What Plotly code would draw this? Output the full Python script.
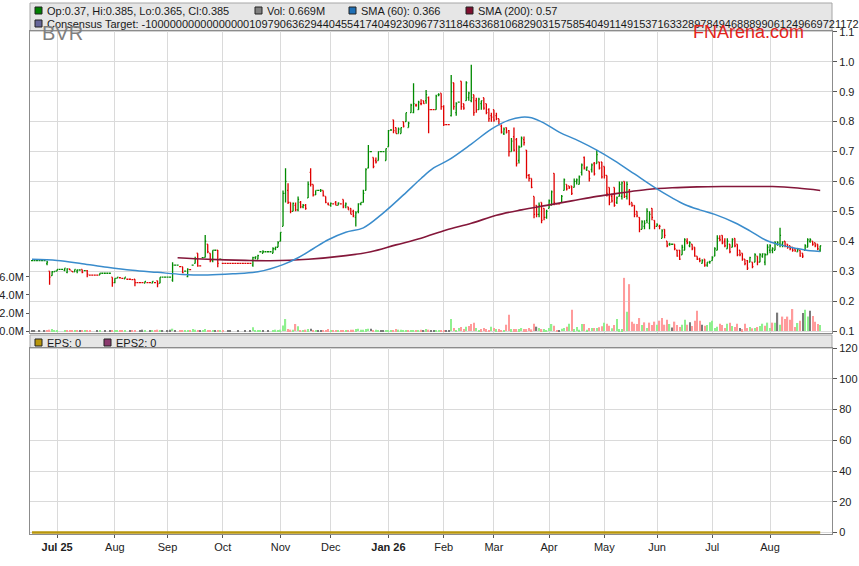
import pandas as pd
import plotly.graph_objects as go

# trading days on the chart (mid Jun 2025 .. end Aug 2026)
DATES = pd.bdate_range("2025-06-17", "2026-08-31")

# daily bars (prices in $)
OPEN = [
    .335, .335, .335, .335, .335, .335, .325, .30, .285, .298,
    .30, .306, .306, .303, .296, .308, .30, .298, .30, .304,
    .306, .302, .302, .287, .287, .287, .287, .287, .293, .293,
    .293, .293, .28, .262, .276, .278, .276, .274, .273, .273,
    .272, .273, .262, .262, .262, .26, .262, .262, .26, .262,
    .268, .26, .28, .28, .28, .28, .27, .32, .32, .315,
    .315, .30, .282, .305, .32, .326, .36, .318, .345, .346,
    .39, .36, .335, .37, .37, .34, .326, .326, .326, .326,
    .326, .326, .326, .326, .326, .326, .326, .326, .32, .345,
    .34, .365, .36, .365, .365, .365, .36, .375, .38, .40,
    .45, .56, .57, .53, .50, .52, .505, .53, .515, .52,
    .545, .63, .59, .555, .57, .57, .57, .55, .525, .52,
    .525, .53, .52, .525, .54, .52, .515, .51, .50, .48,
    .50, .525, .53, .57, .645, .70, .68, .67, .67, .70,
    .70, .67, .716, .772, .806, .78, .76, .76, .80, .80,
    .78, .83, .83, .855, .84, .86, .87, .87, .88, .84,
    .84, .84, .89, .895, .85, .79, .79, .82, .93, .83,
    .865, .935, .86, .87, .88, .87, .89, .87, .84, .86,
    .88, .86, .84, .82, .84, .82, .81, .785, .76, .78,
    .77, .70, .75, .74, .67, .715, .74, .705, .62, .61,
    .55, .52, .49, .53, .51, .48, .51, .52, .627, .525,
    .525, .53, .57, .59, .585, .585, .58, .60, .59, .63,
    .68, .64, .635, .64, .66, .66, .665, .665, .65, .62,
    .58, .55, .58, .53, .55, .55, .60, .55, .57, .53,
    .52, .50, .48, .44, .45, .47, .46, .51, .47, .45,
    .45, .41, .44, .40, .39, .39, .39, .37, .37, .355,
    .37, .40, .385, .39, .38, .35, .34, .326, .34, .32,
    .33, .335, .35, .37, .41, .42, .40, .375, .39, .38,
    .41, .39, .37, .36, .34, .335, .33, .33, .33, .35,
    .33, .35, .33, .355, .37, .37, .37, .39, .39, .39,
    .40, .39, .385, .38, .375, .365, .37, .36, .37, .38,
    .40, .40, .395, .39, .37,
]
HIGH = [
    .335, .335, .335, .335, .335, .335, .335, .30, .30, .30,
    .306, .306, .306, .31, .31, .308, .30, .306, .306, .304,
    .306, .302, .304, .287, .287, .287, .287, .293, .293, .293,
    .293, .293, .28, .276, .28, .278, .276, .28, .273, .273,
    .272, .273, .262, .262, .262, .266, .262, .262, .266, .262,
    .268, .28, .28, .28, .28, .28, .33, .32, .32, .315,
    .315, .30, .31, .305, .32, .348, .36, .318, .345, .421,
    .39, .36, .37, .37, .371, .34, .326, .326, .326, .326,
    .326, .326, .326, .326, .326, .326, .326, .326, .348, .35,
    .355, .365, .37, .365, .365, .365, .38, .382, .40, .43,
    .57, .644, .594, .53, .53, .53, .55, .535, .525, .525,
    .60, .644, .59, .57, .57, .575, .57, .55, .53, .53,
    .525, .535, .53, .525, .54, .53, .515, .51, .505, .50,
    .527, .53, .572, .644, .722, .70, .68, .68, .70, .70,
    .70, .71, .772, .772, .806, .78, .78, .78, .80, .83,
    .80, .86, .928, .86, .87, .875, .87, .906, .884, .84,
    .84, .89, .895, .895, .855, .79, .79, .956, .93, .865,
    .865, .935, .86, .935, .90, .99, .89, .88, .88, .87,
    .88, .86, .845, .83, .84, .83, .81, .79, .78, .78,
    .772, .745, .78, .745, .72, .75, .75, .705, .625, .61,
    .55, .52, .53, .53, .51, .505, .54, .57, .627, .525,
    .525, .555, .61, .59, .585, .585, .61, .61, .62, .66,
    .683, .65, .635, .66, .665, .705, .665, .665, .65, .62,
    .58, .56, .58, .55, .60, .60, .60, .60, .575, .53,
    .52, .50, .48, .47, .47, .51, .50, .51, .47, .46,
    .455, .44, .44, .40, .395, .39, .39, .372, .371, .388,
    .41, .41, .40, .39, .38, .35, .345, .34, .34, .33,
    .335, .35, .38, .42, .42, .42, .41, .41, .39, .41,
    .41, .39, .37, .36, .34, .337, .348, .33, .36, .35,
    .36, .36, .36, .39, .39, .38, .40, .40, .445, .40,
    .40, .39, .385, .38, .375, .375, .37, .36, .39, .41,
    .41, .40, .395, .39, .385,
]
LOW = [
    .335, .335, .335, .335, .335, .335, .32, .255, .285, .298,
    .30, .306, .306, .30, .293, .304, .298, .298, .293, .304,
    .293, .302, .28, .287, .287, .287, .287, .287, .293, .293,
    .293, .293, .248, .26, .276, .278, .276, .274, .273, .273,
    .272, .25, .262, .262, .262, .26, .262, .262, .26, .262,
    .246, .26, .28, .28, .28, .28, .265, .32, .32, .315,
    .293, .30, .28, .305, .32, .326, .315, .318, .345, .346,
    .36, .33, .33, .37, .313, .34, .326, .326, .326, .326,
    .326, .326, .326, .326, .326, .326, .326, .326, .315, .34,
    .34, .365, .36, .365, .365, .365, .36, .37, .38, .40,
    .45, .53, .525, .494, .50, .50, .50, .51, .51, .505,
    .545, .583, .55, .555, .57, .565, .55, .527, .52, .515,
    .525, .52, .52, .525, .51, .51, .505, .49, .48, .449,
    .494, .52, .53, .57, .644, .70, .644, .66, .67, .70,
    .70, .67, .716, .772, .761, .76, .76, .76, .78, .80,
    .78, .83, .828, .85, .84, .855, .86, .86, .761, .84,
    .84, .84, .885, .84, .785, .79, .79, .817, .84, .82,
    .865, .84, .84, .87, .87, .865, .82, .83, .84, .84,
    .84, .825, .80, .80, .80, .805, .79, .76, .755, .76,
    .683, .70, .70, .65, .66, .715, .72, .61, .60, .577,
    .477, .48, .48, .46, .47, .475, .51, .52, .52, .525,
    .525, .53, .57, .57, .575, .555, .58, .59, .59, .62,
    .64, .635, .60, .63, .62, .66, .64, .61, .61, .55,
    .52, .53, .515, .525, .55, .54, .545, .54, .52, .515,
    .48, .48, .43, .44, .44, .46, .44, .47, .44, .45,
    .44, .41, .41, .38, .385, .39, .37, .348, .337, .355,
    .37, .39, .38, .37, .348, .337, .33, .326, .315, .315,
    .325, .335, .35, .37, .40, .39, .38, .375, .36, .38,
    .38, .35, .35, .335, .32, .304, .33, .31, .33, .32,
    .33, .345, .32, .355, .36, .36, .37, .385, .38, .38,
    .38, .375, .37, .365, .365, .365, .348, .344, .37, .38,
    .395, .385, .38, .37, .365,
]
CLOSE = [
    .335, .335, .335, .335, .335, .335, .33, .28, .298, .30,
    .306, .306, .306, .31, .308, .304, .298, .306, .304, .304,
    .296, .302, .29, .287, .287, .287, .287, .293, .293, .293,
    .293, .293, .262, .276, .28, .278, .276, .28, .273, .273,
    .272, .262, .262, .262, .262, .266, .262, .262, .266, .262,
    .258, .28, .28, .28, .28, .28, .32, .32, .32, .315,
    .295, .30, .306, .305, .32, .34, .318, .318, .345, .40,
    .365, .335, .37, .37, .326, .34, .326, .326, .326, .326,
    .326, .326, .326, .326, .326, .326, .326, .326, .345, .348,
    .352, .365, .365, .365, .365, .365, .375, .38, .395, .43,
    .56, .60, .53, .50, .527, .505, .54, .515, .52, .51,
    .59, .59, .555, .57, .57, .57, .553, .53, .522, .527,
    .525, .52, .528, .525, .515, .525, .505, .49, .485, .495,
    .525, .53, .56, .64, .70, .70, .65, .665, .70, .70,
    .70, .71, .77, .772, .77, .76, .775, .78, .785, .83,
    .795, .855, .86, .855, .865, .86, .86, .89, .84, .84,
    .84, .885, .89, .85, .79, .79, .79, .90, .85, .86,
    .865, .85, .845, .93, .895, .88, .83, .84, .875, .87,
    .845, .83, .81, .815, .805, .81, .79, .765, .775, .765,
    .70, .735, .705, .66, .715, .745, .73, .62, .61, .58,
    .49, .49, .52, .47, .48, .50, .535, .565, .53, .525,
    .525, .55, .605, .575, .58, .56, .60, .605, .615, .655,
    .645, .648, .61, .655, .625, .69, .645, .615, .62, .56,
    .53, .535, .52, .545, .59, .595, .55, .59, .525, .52,
    .49, .485, .44, .465, .46, .50, .49, .48, .45, .455,
    .45, .435, .42, .385, .39, .39, .375, .35, .34, .38,
    .405, .395, .395, .375, .35, .34, .335, .335, .32, .33,
    .332, .345, .375, .41, .405, .395, .385, .40, .365, .405,
    .385, .355, .355, .34, .325, .31, .345, .315, .355, .33,
    .355, .358, .355, .38, .385, .375, .395, .395, .42, .398,
    .385, .38, .375, .37, .368, .372, .35, .35, .385, .405,
    .405, .39, .385, .375, .385,
]
# daily volume, millions of shares
VOLUME_M = [
    0.05, 0.02, 0.0, 0.02, 0.0, 0.03, 0.08, 0.15, 0.22, 0.05,
    0.05, 0.0, 0.0, 0.11, 0.06, 0.04, 0.05, 0.04, 0.06, 0.11,
    0.06, 0.03, 0.08, 0.11, 0.0, 0.0, 0.02, 0.05, 0.0, 0.11,
    0.0, 0.11, 0.08, 0.05, 0.04, 0.02, 0.02, 0.05, 0.0, 0.02,
    0.02, 0.06, 0.0, 0.11, 0.15, 0.04, 0.0, 0.02, 0.05, 0.11,
    0.15, 0.06, 0.11, 0.0, 0.02, 0.15, 0.26, 0.02, 0.0, 0.02,
    0.11, 0.04, 0.08, 0.03, 0.22, 0.15, 0.08, 0.11, 0.05, 0.22,
    0.06, 0.05, 0.05, 0.02, 0.08, 0.11, 0.11, 0.0, 0.11, 0.11,
    0.0, 0.0, 0.02, 0.0, 0.0, 0.11, 0.0, 0.05, 0.41, 0.11,
    0.05, 0.04, 0.06, 0.0, 0.02, 0.0, 0.11, 0.15, 0.08, 0.15,
    0.6, 1.33, 0.22, 0.15, 0.15, 0.78, 0.52, 0.11, 0.06, 0.15,
    0.22, 0.26, 0.08, 0.05, 0.02, 0.04, 0.06, 0.11, 0.22, 0.11,
    0.02, 0.05, 0.04, 0.11, 0.11, 0.05, 0.06, 0.15, 0.15, 0.22,
    0.26, 0.15, 0.15, 0.22, 0.26, 0.26, 0.08, 0.15, 0.06, 0.02,
    0.02, 0.06, 0.11, 0.04, 0.08, 0.22, 0.15, 0.15, 0.06, 0.08,
    0.05, 0.06, 0.11, 0.11, 0.06, 0.15, 0.05, 0.22, 0.15, 0.07,
    0.05, 0.05, 0.05, 0.1, 0.1, 0.05, 0.05, 1.33, 0.33, 0.11,
    0.33, 0.44, 0.22, 0.48, 0.55, 0.78, 0.93, 0.33, 0.11, 0.22,
    0.33, 0.22, 0.11, 0.48, 0.33, 0.22, 0.22, 0.11, 0.11, 0.7,
    1.8, 0.22, 0.22, 0.22, 0.22, 0.33, 0.22, 0.22, 0.33, 0.18,
    0.8, 0.48, 0.33, 0.22, 0.22, 0.1, 0.33, 0.78, 0.59, 0.05,
    0.05, 0.26, 0.33, 0.48, 0.81, 2.37, 0.22, 0.44, 0.15, 0.78,
    0.78, 0.15, 0.33, 0.33, 0.33, 0.33, 0.41, 0.52, 0.93, 0.81,
    0.59, 0.3, 0.67, 1.33, 0.22, 0.22, 5.9, 2.15, 5.2, 1.04,
    0.81, 0.78, 1.44, 0.67, 0.96, 0.33, 0.93, 0.67, 1.04, 0.7,
    1.15, 1.44, 0.7, 1.26, 0.78, 0.4, 1.04, 0.67, 0.44, 0.7,
    1.26, 0.7, 0.96, 0.55, 1.15, 2.26, 1.15, 0.7, 0.59, 0.67,
    0.96, 1.15, 0.33, 0.48, 0.81, 0.67, 0.33, 0.81, 0.93, 0.55,
    0.44, 0.81, 0.33, 0.22, 0.81, 0.33, 0.44, 0.3, 0.33, 0.44,
    0.55, 0.81, 0.59, 0.93, 0.33, 0.93, 0.93, 2.04, 0.7, 1.6,
    1.33, 1.6, 1.26, 2.44, 0.44, 0.89, 1.15, 2.0, 2.37, 1.6,
    2.26, 1.67, 1.04, 0.78, 0.669,
]

# moving averages read at sample bars (bar index, value)
SMA60_IDX = [0, 10, 20, 30, 40, 50, 60, 70, 80, 90, 100, 106, 112, 118, 125, 132,
             140, 148, 155, 160, 166, 175, 183, 190, 195, 199, 204, 210, 218, 225,
             232, 240, 248, 255, 260, 266, 272, 280, 286, 292, 298, 304, 310, 314]
SMA60 = [.34, .336, .325, .313, .303, .296, .289, .287, .291, .298, .322, .345, .375, .405, .43, .445,
         .495, .555, .61, .645, .672, .725, .775, .805, .815, .813, .795, .765, .735, .705,
         .67, .625, .58, .545, .523, .505, .49, .462, .435, .405, .388, .377, .368, .366]
SMA200_IDX = [58, 70, 85, 95, 110, 125, 135, 145, 155, 165, 175, 185, 195, 205,
              215, 225, 235, 245, 255, 265, 275, 285, 295, 305, 314]
SMA200 = [.345, .34, .336, .335, .34, .352, .365, .388, .41, .438, .46, .487, .505, .52,
          .535, .55, .562, .573, .579, .582, .583, .583, .583, .578, .57]

EPS_VALUE = 0
CONSENSUS = ("-1000000000000000010979063629440455417404923096773118463368106829031575"
             "85404911491537163328978494688899061249669721172")

n = min(len(DATES), len(OPEN), len(HIGH), len(LOW), len(CLOSE), len(VOLUME_M))
idx = list(range(n))

# volume colour: up / down / unchanged against previous close
vol_colors = []
for i in range(n):
    prev = CLOSE[i - 1] if i > 0 else CLOSE[i]
    if CLOSE[i] > prev:
        vol_colors.append("#8ff08f")
    elif CLOSE[i] < prev:
        vol_colors.append("#ff9b9b")
    else:
        vol_colors.append("#7a7a7a")

# month ticks on first trading day of each month
month_idx, month_txt = [], []
for i in range(1, n):
    d = DATES[i]
    if d.month != DATES[i - 1].month:
        month_idx.append(i)
        if not month_txt or d.month == 1:
            month_txt.append("<b>" + d.strftime("%b %y") + "</b>")
        else:
            month_txt.append(d.strftime("%b"))

# pixel helpers (plot area spans x 30..832, y 3..534)
def fx(x):
    return (x - 30) / 802.0

def fy(y):
    return (534 - y) / 531.0

GRID = "#dadada"
AXIS = "#8c8c8c"
FONT = "Liberation Sans, Arial, sans-serif"

fig = go.Figure()

fig.add_trace(go.Bar(
    x=idx, y=VOLUME_M[:n], marker_color=vol_colors, marker_line_width=0,
    width=0.5, xaxis="x", yaxis="y", hoverinfo="skip",
))
fig.add_trace(go.Scatter(
    x=SMA200_IDX, y=SMA200, mode="lines", xaxis="x", yaxis="y2",
    line=dict(color="#84173a", width=1.6, shape="spline"), hoverinfo="skip",
))
fig.add_trace(go.Scatter(
    x=SMA60_IDX, y=SMA60, mode="lines", xaxis="x", yaxis="y2",
    line=dict(color="#3a8ccc", width=1.5, shape="spline"), hoverinfo="skip",
))
fig.add_trace(go.Ohlc(
    x=idx, open=OPEN[:n], high=HIGH[:n], low=LOW[:n], close=CLOSE[:n],
    xaxis="x", yaxis="y2", tickwidth=0.4, line=dict(width=1.3),
    increasing=dict(line=dict(color="#008a00")),
    decreasing=dict(line=dict(color="#e00000")),
    hoverinfo="skip",
))
fig.add_trace(go.Scatter(
    x=[0, n - 1], y=[EPS_VALUE, EPS_VALUE], mode="lines", xaxis="x2", yaxis="y3",
    line=dict(color="#b8960b", width=2.5), hoverinfo="skip",
))

price_dom = [fy(333), fy(31)]
eps_dom = [0, fy(348)]
xr = [-0.8, 318.7]

fig.update_layout(
    width=859, height=566,
    margin=dict(l=30, r=27, t=3, b=32, autoexpand=False),
    paper_bgcolor="white", plot_bgcolor="white",
    showlegend=False,
    font=dict(family=FONT, size=11, color="#222"),
    xaxis=dict(
        domain=[0, 1], anchor="y", range=xr, rangeslider=dict(visible=False),
        tickvals=month_idx, showticklabels=False, ticks="", automargin=False,
        showgrid=True, gridcolor=GRID, zeroline=False,
        showline=True, linecolor=AXIS, mirror=True,
    ),
    yaxis=dict(
        domain=price_dom, anchor="x", side="left", range=[-0.22, 33.3],
        tickvals=[0, 2, 4, 6], ticktext=["0.0M", "2.0M", "4.0M", "6.0M"],
        ticks="outside", ticklen=3, tickcolor="#555", automargin=False,
        showgrid=False, zeroline=False, showline=True, linecolor=AXIS,
        tickfont=dict(size=11, color="#222"),
    ),
    yaxis2=dict(
        overlaying="y", anchor="x", side="right", range=[0.0933, 1.103],
        tickvals=[0.1, 0.2, 0.3, 0.4, 0.5, 0.6, 0.7, 0.8, 0.9, 1.0, 1.1],
        tickformat=".1f", ticks="outside", ticklen=4, tickcolor="#555",
        showgrid=True, gridcolor=GRID, zeroline=False, automargin=False,
        showline=True, linecolor=AXIS,
        tickfont=dict(size=11, color="#222"),
    ),
    xaxis2=dict(
        domain=[0, 1], anchor="y3", matches="x", range=xr,
        tickvals=month_idx, ticktext=month_txt, automargin=False,
        ticks="outside", ticklen=3, tickcolor="#555",
        showgrid=True, gridcolor=GRID, zeroline=False,
        showline=True, linecolor=AXIS, mirror=True,
        tickfont=dict(family="Liberation Sans Narrow, Arial Narrow, " + FONT, size=11, color="#222"),
    ),
    yaxis3=dict(
        domain=eps_dom, anchor="x2", side="right", range=[-0.9, 120],
        tickvals=[0, 20, 40, 60, 80, 100, 120], automargin=False,
        ticks="outside", ticklen=4, tickcolor="#555",
        showgrid=True, gridcolor=GRID, zeroline=False,
        showline=True, linecolor=AXIS, mirror=True,
        tickfont=dict(size=11, color="#222"),
    ),
)

shapes = [
    # header band above the price panel and the EPS band
    dict(type="rect", xref="paper", yref="paper", x0=fx(30), x1=fx(832), y0=fy(31), y1=fy(3),
         fillcolor="#e6e6e6", line=dict(color="#a6a6a6", width=1), layer="below"),
    dict(type="rect", xref="paper", yref="paper", x0=fx(30), x1=fx(832), y0=fy(348), y1=fy(335),
         fillcolor="#e6e6e6", line=dict(color="#a6a6a6", width=1), layer="below"),
]
squares = [
    (35, 7, "#008000"), (255, 7, "#808080"), (349, 7, "#1f6fb5"), (466, 7, "#7f0f2f"),
    (35, 20, "#66669a"), (35, 339, "#b8960b"), (104, 339, "#8b3a6e"),
]
for sx, sy, col in squares:
    shapes.append(dict(type="rect", xref="paper", yref="paper",
                       x0=fx(sx), x1=fx(sx + 7), y0=fy(sy + 7), y1=fy(sy),
                       fillcolor=col, line=dict(color="#222", width=1), layer="above"))
fig.update_layout(shapes=shapes)

labels = [
    (45, 10.5, "Op:0.37, Hi:0.385, Lo:0.365, Cl:0.385"),
    (265, 10.5, "Vol: 0.669M"),
    (359, 10.5, "SMA (60): 0.366"),
    (476, 10.5, "SMA (200): 0.57"),
    (45, 24, "Consensus Target: " + CONSENSUS),
    (45, 342.5, "EPS: 0"),
    (114, 342.5, "EPS2: 0"),
]
annotations = []
for ax_, ay_, txt in labels:
    annotations.append(dict(xref="paper", yref="paper", x=fx(ax_), y=fy(ay_), text=txt,
                            showarrow=False, xanchor="left", yanchor="middle",
                            font=dict(family=FONT, size=11, color="#1a1a1a")))
annotations.append(dict(xref="paper", yref="paper", x=fx(40), y=fy(33), text="BVR",
                        showarrow=False, xanchor="left", yanchor="middle",
                        font=dict(family=FONT, size=20, color="#7f7f7f")))
annotations.append(dict(xref="paper", yref="paper", x=fx(691), y=fy(32), text="FNArena.com",
                        showarrow=False, xanchor="left", yanchor="middle",
                        font=dict(family=FONT, size=18, color="#e3241b")))
fig.update_layout(annotations=annotations)

# page body margin removed so the figure sits at the window's top-left corner
fig.write_html("out.html", config={"displayModeBar": False},
               post_script="document.body.style.margin='0px';")
